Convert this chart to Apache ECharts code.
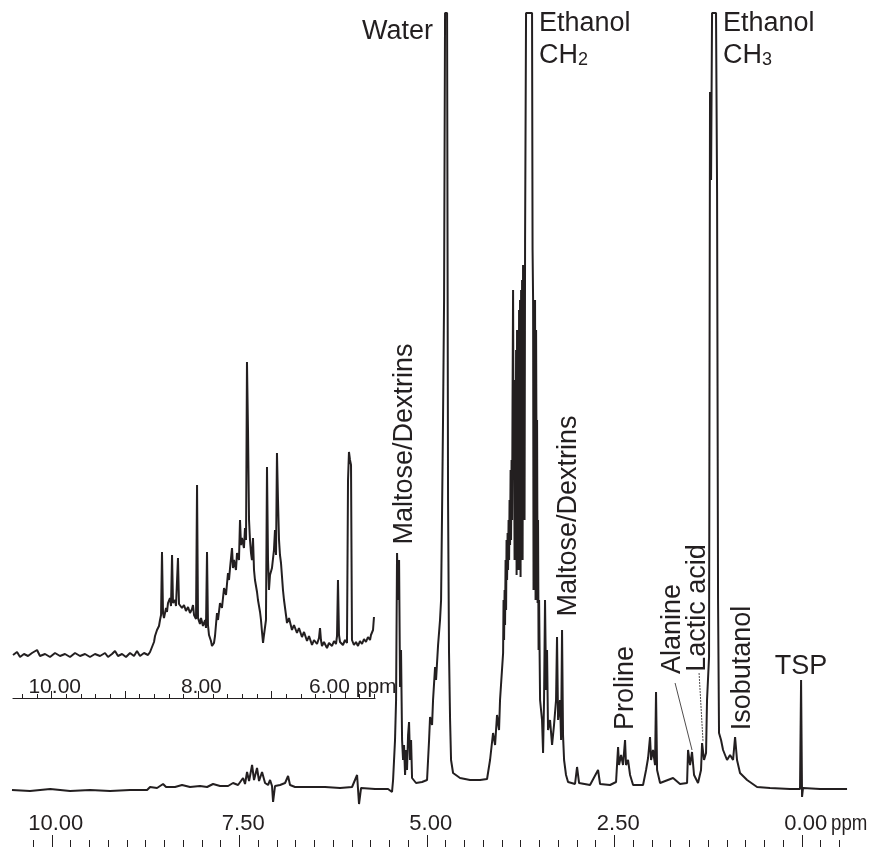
<!DOCTYPE html>
<html>
<head>
<meta charset="utf-8">
<title>1H NMR spectrum</title>
<script src="https://cdn.jsdelivr.net/npm/echarts@6/dist/echarts.min.js"></script>
<style>
  html, body { margin: 0; padding: 0; background: #fff; }
  #chart { width: 871px; height: 847px; }
</style>
</head>
<body>
<div id="chart"></div>
<script>
// full spectrum: [chemical shift (ppm), intensity (a.u., baseline = 0)]
const mainSpectrum = [
  [10.53,-1],[10.29,-2],[10.02,0],[9.756,-2],[9.489,-1],[9.223,-2],[8.956,-1],[8.729,-1],[8.689,2],[8.596,1],
  [8.516,5],[8.476,2],[8.356,2],[8.263,4],[8.156,2],[8.023,3],[7.929,2],[7.849,5],[7.756,3],[7.649,3],
  [7.583,6],[7.516,4],[7.449,11],[7.423,5],[7.396,17],[7.369,8],[7.329,24],[7.303,9],[7.263,21],[7.236,8],
  [7.196,17],[7.156,6],[7.116,4],[7.089,9],[7.063,3],[7.049,-13],[7.023,3],[6.956,4],[6.889,6],[6.849,13],
  [6.823,4],[6.756,2],[6.556,2],[6.356,2],[6.156,1],[5.996,2],[5.929,14],[5.903,-15],[5.876,1],[5.689,0],
  [5.516,0],[5.463,-3],[5.449,9],[5.423,49],[5.409,89],[5.396,236],[5.383,189],[5.369,229],[5.356,102],[5.343,139],
  [5.329,49],[5.316,29],[5.303,44],[5.289,14],[5.276,39],[5.263,19],[5.249,54],[5.236,67],[5.223,29],[5.209,49],
  [5.196,11],[5.143,6],[5.063,7],[4.996,9],[4.969,49],[4.956,72],[4.929,64],[4.916,89],[4.889,122],[4.876,109],
  [4.849,144],[4.823,169],[4.809,189],[4.796,276],[4.783,369],[4.769,489],[4.756,776],[4.729,776],[4.716,289],[4.703,136],
  [4.689,69],[4.676,29],[4.649,16],[4.556,11],[4.423,9],[4.289,9],[4.196,10],[4.156,29],[4.116,56],[4.089,44],
  [4.063,74],[4.036,59],[4.023,89],
  [3.982,136],[3.976,189],[3.969,149],[3.962,199],[3.956,164],[3.949,229],[3.942,179],[3.936,249],[3.929,209],[3.922,256],
  [3.916,219],[3.909,269],[3.902,229],[3.896,289],[3.889,244],[3.882,319],[3.876,249],[3.869,329],[3.862,269],[3.856,389],
  [3.849,499],[3.842,319],[3.836,369],[3.829,229],[3.822,409],[3.816,249],[3.809,439],[3.802,214],[3.796,459],[3.789,269],
  [3.782,429],[3.776,219],[3.769,479],[3.762,289],[3.756,489],[3.749,212],[3.742,499],[3.736,309],[3.729,509],[3.722,229],
  [3.716,524],[3.709,339],[3.702,489],[3.696,269],[3.689,547],[3.676,776],[3.596,776],
  [3.589,539],[3.582,489],[3.576,199],[3.569,469],[3.562,229],[3.556,489],[3.549,189],[3.542,459],[3.536,319],[3.529,369],
  [3.522,186],[3.516,269],[3.509,139],[3.502,189],[3.489,89],
  [3.463,69],[3.449,36],[3.436,89],[3.423,189],[3.409,99],[3.396,139],[3.383,59],
  [3.356,69],[3.329,44],[3.303,64],[3.276,89],[3.263,152],[3.249,69],[3.223,89],[3.209,49],[3.196,159],[3.183,54],
  [3.169,29],[3.143,14],[3.116,7],[3.023,5],[2.996,22],[2.969,6],[2.823,4],[2.716,19],[2.689,5],[2.556,4],
  [2.476,7],[2.449,42],[2.436,24],[2.409,34],[2.383,24],[2.356,49],[2.343,24],[2.316,29],[2.289,14],[2.249,4],
  [2.116,4],[2.076,19],[2.049,31],[2.023,52],[2.009,29],[1.983,39],[1.956,24],[1.943,97],[1.929,19],[1.889,6],
  [1.716,11],[1.623,5],[1.529,6],[1.516,39],[1.489,24],[1.463,37],[1.436,14],[1.383,6],[1.343,19],[1.329,46],
  [1.303,29],[1.276,36],[1.263,89],[1.236,132],[1.223,697],[1.209,609],[1.196,776],[1.143,776],[1.129,596],[1.116,189],
  [1.103,56],[1.076,49],[1.049,39],[0.996,29],[0.956,34],[0.916,29],[0.889,52],[0.863,29],[0.823,16],[0.729,9],
  [0.596,2],[0.423,1],[0.156,0],[0.023,0],[0.009,109],[-0.004,-8],[-0.017,1],[-0.244,0],[-0.604,0]
];

// inset: 10.5 - 5.6 ppm, vertically expanded
const insetSpectrum = [
  [10.528,0],[10.473,3],[10.432,-2],[10.378,1],[10.323,-1],[10.269,2],[10.200,5],[10.160,-1],[10.091,1],[10.023,-2],
  [9.955,2],[9.887,-1],[9.819,1],[9.750,-2],[9.682,2],[9.614,-1],[9.546,1],[9.478,-2],[9.410,1],[9.341,-1],
  [9.273,2],[9.232,-2],[9.178,1],[9.137,4],[9.096,-1],[9.041,1],[8.987,-2],[8.932,2],[8.878,-1],[8.837,4],
  [8.796,-1],[8.741,2],[8.687,0],[8.659,3],[8.632,8],[8.605,13],[8.591,19],[8.564,25],[8.537,29],[8.523,35],
  [8.509,40],[8.496,103],[8.482,42],[8.469,37],[8.441,47],[8.428,43],[8.414,52],[8.387,57],[8.373,49],[8.359,100],
  [8.346,52],[8.318,55],[8.305,49],[8.278,97],[8.264,51],[8.237,52],[8.223,47],[8.196,50],[8.169,44],[8.141,48],
  [8.114,42],[8.087,46],[8.073,50],[8.059,40],[8.032,36],[8.018,170],[8.005,37],[7.978,31],[7.964,37],[7.937,29],
  [7.909,35],[7.896,27],[7.882,103],[7.869,30],[7.855,20],[7.828,14],[7.814,9],[7.787,12],[7.773,19],[7.746,42],
  [7.732,35],[7.705,52],[7.678,47],[7.650,67],[7.623,60],[7.596,82],[7.582,75],[7.568,87],[7.541,107],[7.528,87],
  [7.514,95],[7.487,85],[7.473,102],[7.446,95],[7.432,135],[7.419,110],[7.405,117],[7.378,107],[7.364,127],[7.350,115],
  [7.337,293],[7.323,225],[7.309,135],[7.296,115],[7.282,102],[7.269,95],[7.255,117],[7.241,85],[7.228,75],[7.200,63],
  [7.187,55],[7.159,43],[7.146,35],[7.132,23],[7.118,12],[7.105,20],[7.078,35],[7.064,188],[7.050,95],[7.037,65],
  [7.023,80],[6.996,87],[6.969,105],[6.955,125],[6.941,100],[6.928,202],[6.914,155],[6.900,115],[6.887,100],[6.873,92],
  [6.846,65],[6.832,55],[6.805,40],[6.791,32],[6.764,37],[6.723,25],[6.696,30],[6.655,22],[6.628,27],[6.587,18],
  [6.559,23],[6.518,14],[6.491,19],[6.450,10],[6.423,15],[6.382,11],[6.355,17],[6.341,27],[6.328,15],[6.314,9],
  [6.287,13],[6.246,7],[6.218,12],[6.177,9],[6.150,14],[6.123,11],[6.109,19],[6.096,75],[6.082,20],[6.068,13],
  [6.028,10],[6.000,15],[5.973,12],[5.959,175],[5.946,203],[5.932,195],[5.918,190],[5.905,15],[5.878,10],[5.850,13],
  [5.823,9],[5.796,14],[5.768,11],[5.741,16],[5.714,13],[5.687,18],[5.659,15],[5.646,20],[5.618,25],[5.605,38]
];

const mainLabels = [10, 7.5, 5, 2.5, 0];
const insetLabels = [10, 8];
const insetMajor = [10, 9, 8, 7, 6];
const mainMinor = [];
for (let v = -0.5; v <= 10.26; v += 0.25) mainMinor.push(+v.toFixed(2));
const insetMinor = [];
for (let v = 5.6; v <= 10.41; v += 0.2) insetMinor.push(+v.toFixed(1));

// leader lines for Alanine / Lactic acid: [ppm, intensity] from -> to
const alanineLead = [[1.689, 106], [1.463, 39]];
const lacticLead = [[1.369, 116], [1.316, 47]];

const ink = '#231f20';
const sans = "'Liberation Sans', Arial, Helvetica, sans-serif";

const chart = echarts.init(document.getElementById('chart'));

const txt = (text, x, y, align) => ({
  type: 'text', x: x, y: y, silent: true,
  style: { text: text, font: '27px ' + sans, fill: ink, align: align || 'left', verticalAlign: 'middle' }
});

const vtxt = (text, x, y) => ({
  type: 'text', x: x, y: y, rotation: Math.PI / 2, silent: true,
  style: { text: text, font: '27px ' + sans, fill: ink, align: 'center', verticalAlign: 'middle' }
});

const chText = (n, x, y) => ({
  type: 'text', x: x, y: y, silent: true,
  style: {
    text: '{a|CH}{b|' + n + '}', fill: ink, align: 'left', verticalAlign: 'middle',
    rich: {
      a: { fontSize: 27, fontFamily: sans, lineHeight: 27, verticalAlign: 'bottom', fill: ink },
      b: { fontSize: 18, fontFamily: sans, lineHeight: 27, verticalAlign: 'bottom', fill: ink }
    }
  }
});

const tickAxis = (grid, min, max, values, len, line) => ({
  gridIndex: grid, type: 'value', inverse: true, min: min, max: max, position: 'bottom',
  axisLine: { show: !!line, onZero: false, lineStyle: { color: ink, width: 1.2 } },
  splitLine: { show: false },
  axisTick: { show: true, inside: true, length: len, customValues: values, lineStyle: { color: ink, width: 1 } },
  axisLabel: { show: false }
});

const mainAxis = tickAxis(0, -0.6, 10.53, mainLabels, 12, false);
mainAxis.axisLabel = {
  show: true, inside: true, margin: 12.5, customValues: mainLabels,
  formatter: v => v.toFixed(2), color: ink, fontSize: 22, fontFamily: sans, padding: [0, 0, 0, 8]
};
const insetAxis = tickAxis(1, 5.591, 10.528, insetMajor, 7, true);
insetAxis.axisLabel = {
  show: true, inside: true, margin: 0.5, customValues: insetLabels,
  formatter: v => v.toFixed(2), color: ink, fontSize: 21, fontFamily: sans, padding: [0, 0, 0, 6]
};

const option = {
  backgroundColor: '#fff',
  animation: false,
  grid: [
    { left: 12, width: 834.75, top: 0, bottom: 0 },
    { left: 13, width: 362, top: 300, height: 398 }
  ],
  xAxis: [
    mainAxis,
    tickAxis(0, -0.6, 10.53, mainMinor, 7, false),
    insetAxis,
    tickAxis(1, 5.591, 10.528, insetMinor, 4, false)
  ],
  yAxis: [
    { gridIndex: 0, type: 'value', min: -58, max: 789, show: false },
    { gridIndex: 1, type: 'value', min: -43, max: 355, show: false }
  ],
  series: [
    {
      name: 'spectrum', type: 'line', xAxisIndex: 0, yAxisIndex: 0,
      data: mainSpectrum, showSymbol: false, symbol: 'none',
      lineStyle: { color: ink, width: 2 },
      markLine: {
        silent: true, symbol: ['none', 'none'], label: { show: false },
        lineStyle: { color: ink, width: 0.8, type: 'solid' },
        data: [
          [{ coord: alanineLead[0] }, { coord: alanineLead[1] }],
          [{ coord: lacticLead[0], lineStyle: { type: [2, 1] } }, { coord: lacticLead[1] }]
        ]
      }
    },
    {
      name: 'inset', type: 'line', xAxisIndex: 2, yAxisIndex: 1,
      data: insetSpectrum, showSymbol: false, symbol: 'none',
      lineStyle: { color: ink, width: 2 }
    }
  ],
  graphic: [
    txt('Water', 433, 32, 'right'),
    txt('Ethanol', 539, 23.5),
    chText('2', 539, 56),
    txt('Ethanol', 723, 23.5),
    chText('3', 723, 56),
    vtxt('Maltose/Dextrins', 405, 444),
    vtxt('Maltose/Dextrins', 569, 516),
    vtxt('Proline', 626, 688),
    vtxt('Alanine', 673, 629),
    vtxt('Lactic acid', 698, 608),
    vtxt('Isobutanol', 743, 668),
    txt('TSP', 801, 667, 'center'),
    { type: 'text', x: 831, y: 834.5, scaleX: 0.85, silent: true,
      style: { text: 'ppm', font: '22px ' + sans, fill: ink, align: 'left', verticalAlign: 'bottom' } },
    { type: 'text', x: 309, y: 697.5, silent: true,
      style: { text: '6.00 ppm', font: '21px ' + sans, fill: ink, align: 'left', verticalAlign: 'bottom' } }
  ]
};

chart.setOption(option);
</script>
</body>
</html>
